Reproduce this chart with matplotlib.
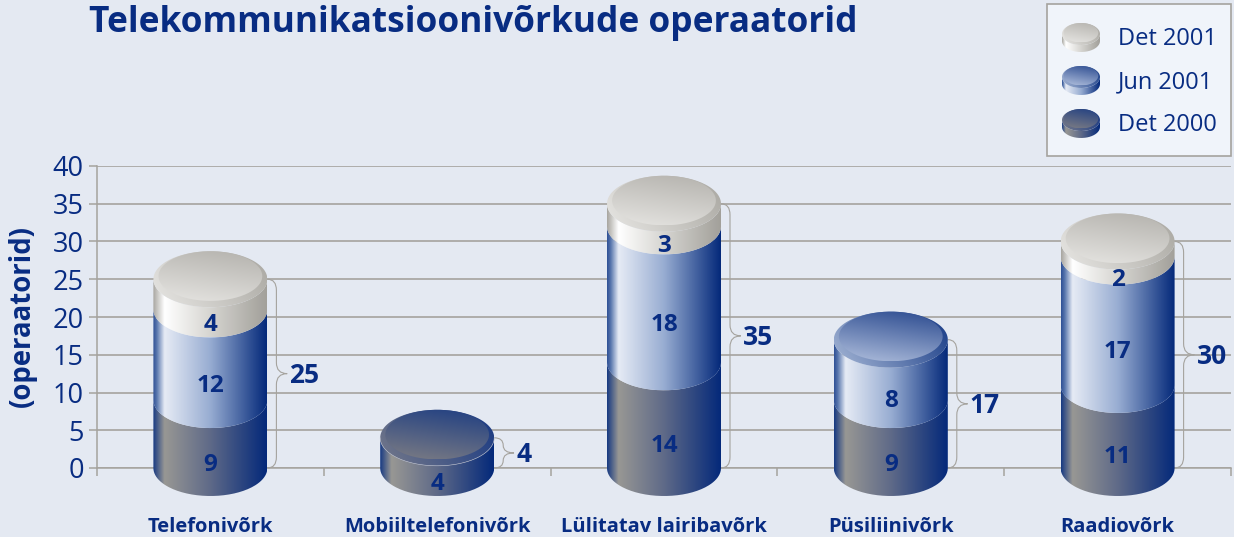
import numpy as np
import matplotlib
matplotlib.use("Agg")
import matplotlib.pyplot as plt
from matplotlib.colors import LinearSegmentedColormap
from matplotlib.patches import PathPatch, Rectangle
from matplotlib.path import Path

categories = ["Telefonivõrk", "Mobiiltelefonivõrk", "Lülitatav lairibavõrk", "Püsiliinivõrk", "Raadiovõrk"]
det_2000 = [9, 4, 14, 9, 11]
jun_2001 = [12, 0, 18, 8, 17]
det_2001 = [4, 0, 3, 0, 2]
totals = [25, 4, 35, 17, 30]
yticks = [0, 5, 10, 15, 20, 25, 30, 35, 40]
legend_names = ["Det 2001", "Jun 2001", "Det 2000"]

W, H = 1234, 537
BG = "#e4e9f2"
NAVY = "#082c82"
GREY = "#a5a39e"

plt.rcParams["font.family"] = ["Open Sans", "DejaVu Sans"]

# colour stops: side, cap rim, cap top
STYLES = {
    "grey": (
        [(0, "#a8a6a0"), (0.1, "#ffffff"), (0.5, "#d6d5d1"), (1, "#a2a09a")],
        ["#e8e7e4", "#a8a6a0"],
        ["#e6e5e2", "#b3b1ac"],
    ),
    "blue": (
        [(0, "#2f5196"), (0.03, "#5573ab"), (0.1, "#e6ebf5"), (0.5, "#98add2"), (1, "#04297a")],
        ["#a6b7d6", "#143884"],
        ["#b0bfdd", "#27478d"],
    ),
    "dark": (
        [(0, "#173a82"), (0.1, "#989794"), (0.5, "#5f6a88"), (1, "#04297a")],
        ["#767a8a", "#163783"],
        ["#7d7d84", "#1d3d82"],
    ),
}


def grad(ax, stops, path, extent, dx=1.0, dy=0.0):
    # gradient runs from the lower left to the upper right of the extent
    cmap = LinearSegmentedColormap.from_list("g", stops)
    gx, gy = np.meshgrid(np.linspace(0, 1, 256), np.linspace(0, 1, 256))
    arr = (gx * dx + gy * dy) / (dx + dy)
    im = ax.imshow(arr, cmap=cmap, extent=extent, aspect="auto", origin="lower", zorder=3,
                   interpolation="bilinear", vmin=0, vmax=1)
    patch = PathPatch(path, transform=ax.transData, fc="none", ec="none")
    im.set_clip_box(ax.figure.bbox)
    im.set_clip_path(patch)


def ellipse(xc, yc, hw, b):
    t = np.linspace(0, 2 * np.pi, 200)
    return Path(np.column_stack([xc + hw * np.cos(t), yc + b * np.sin(t)]), closed=False)


def side(xc, y0, y1, hw, b):
    t = np.linspace(np.pi, 2 * np.pi, 100)
    low = np.column_stack([xc + hw * np.cos(t), y0 + b * np.sin(t)])
    up = np.column_stack([xc + hw * np.cos(t[::-1]), y1 + b * np.sin(t[::-1])])
    return Path(np.vstack([low, up, low[:1]]))


def cap(ax, xc, y, hw, b, style, edge=False):
    _, rim, top = STYLES[style]
    grad(ax, rim, ellipse(xc, y, hw, b), (xc - hw, xc + hw, y - b, y + b), dx=1.0, dy=0.35)
    ib = b * 0.886
    ic = y + b - ib
    grad(ax, top, ellipse(xc, ic, hw * 0.91, ib), (xc - hw, xc + hw, ic - ib, ic + ib), dx=0.35, dy=1.0)
    if edge:
        t = np.linspace(np.pi, 2 * np.pi, 80)
        ax.plot(xc + hw * np.cos(t), y + b * np.sin(t), color="#b4b8c6", lw=0.4, zorder=3.2, clip_on=False)


def seg(ax, xc, y0, y1, hw, b, style):
    ext = (xc - hw, xc + hw, y0 - b, y1 + b)
    grad(ax, STYLES[style][0], side(xc, y0, y1, hw, b), ext)


def brace(ax, x, top, rx, ry):
    mid = top / 2
    c = min(ry, top / 4)
    verts = [(x, top), (x + rx, top), (x + rx, top - c), (x + rx, mid + c), (x + rx, mid),
             (x + 2.2 * rx, mid), (x + rx, mid), (x + rx, mid - c), (x + rx, c), (x + rx, 0), (x, 0)]
    codes = [Path.MOVETO, Path.CURVE3, Path.CURVE3, Path.LINETO, Path.CURVE3, Path.CURVE3,
             Path.CURVE3, Path.CURVE3, Path.LINETO, Path.CURVE3, Path.CURVE3]
    ax.add_patch(PathPatch(Path(verts, codes), fc="none", ec=GREY, lw=0.8, zorder=2.5, clip_on=False))


fig = plt.figure(figsize=(W / 100, H / 100), dpi=100, facecolor=BG)
ax = fig.add_axes([97 / W, (H - 468) / H, (1231 - 97) / W, (468 - 166) / H], facecolor="none")

PXX = 1 / 226.8
PXY = 1 / 7.55
HW = 57 * PXX
B = 28 * PXY
for i, cat in enumerate(categories):
    y = 0
    last = "dark"
    for val, style in ((det_2000[i], "dark"), (jun_2001[i], "blue"), (det_2001[i], "grey")):
        if val:
            seg(ax, i, y, y + val, HW, B, style)
            ax.text(i, y + val / 2 - B - 3 * PXY, str(val), ha="center", va="center", color=NAVY,
                    fontsize=17.5, fontweight="bold", zorder=5, clip_on=False)
            y += val
            last = style
    cap(ax, i, y, HW, B, last, edge=(last == "dark"))
    brace(ax, i + HW, totals[i], 9 * PXX, 11 * PXY)
    ax.text(i + HW + 22 * PXX, totals[i] / 2 - 2 * PXY, str(totals[i]), ha="left", va="center", color=NAVY,
            fontsize=19, fontweight="bold", zorder=5)

ax.set_xlim(-0.5, 4.5)
ax.set_ylim(0, 40)
ax.set_yticks(yticks)
ax.set_xticks(range(5), categories, fontweight="bold", fontsize=14.5, color=NAVY)
ax.set_xticks(np.arange(-0.5, 5), minor=True)
ax.tick_params(axis="x", which="major", length=0, pad=35)
ax.tick_params(axis="x", which="minor", length=6, width=1.1, color=GREY)
ax.tick_params(axis="y", length=5.5, width=1.1, color=GREY, labelcolor=NAVY, labelsize=19.5, pad=4)
ax.set_axisbelow(True)
ax.grid(axis="y", color=GREY, lw=1.2)
for s in ("top", "right"):
    ax.spines[s].set_visible(False)
for s in ("left", "bottom"):
    ax.spines[s].set_color(GREY)
    ax.spines[s].set_linewidth(1.1)
ax.set_ylabel("(operaatorid)", color=NAVY, fontsize=19.8, fontweight="bold")
ax.yaxis.set_label_coords((37 - 97) / (1231 - 97), (468 - 316) / (468 - 166))

fig.text(89 / W, 1 - 23 / H, "Telekommunikatsioonivõrkude operaatorid", color=NAVY,
         fontsize=25.4, fontweight="bold", ha="left", va="center")

# legend drawn on an overlay in pixel units
lax = fig.add_axes([0, 0, 1, 1], facecolor="none")
lax.add_patch(Rectangle((1047, H - 156), 184, 152, fc="#f0f4fa", ec=GREY, lw=1.2, zorder=1))
for name, style, yc in zip(legend_names, ("grey", "blue", "dark"), (37, 80, 123)):
    ytop = H - yc + 3
    seg(lax, 1081, ytop - 7, ytop, 19, 11, style)
    cap(lax, 1081, ytop, 19, 11, style)
    lax.text(1118, H - yc - 2, name, color=NAVY, fontsize=17, va="center", ha="left", zorder=4)
lax.set_xlim(0, W)
lax.set_ylim(0, H)
lax.axis("off")

fig.savefig("out.png", dpi=100, facecolor=BG)
